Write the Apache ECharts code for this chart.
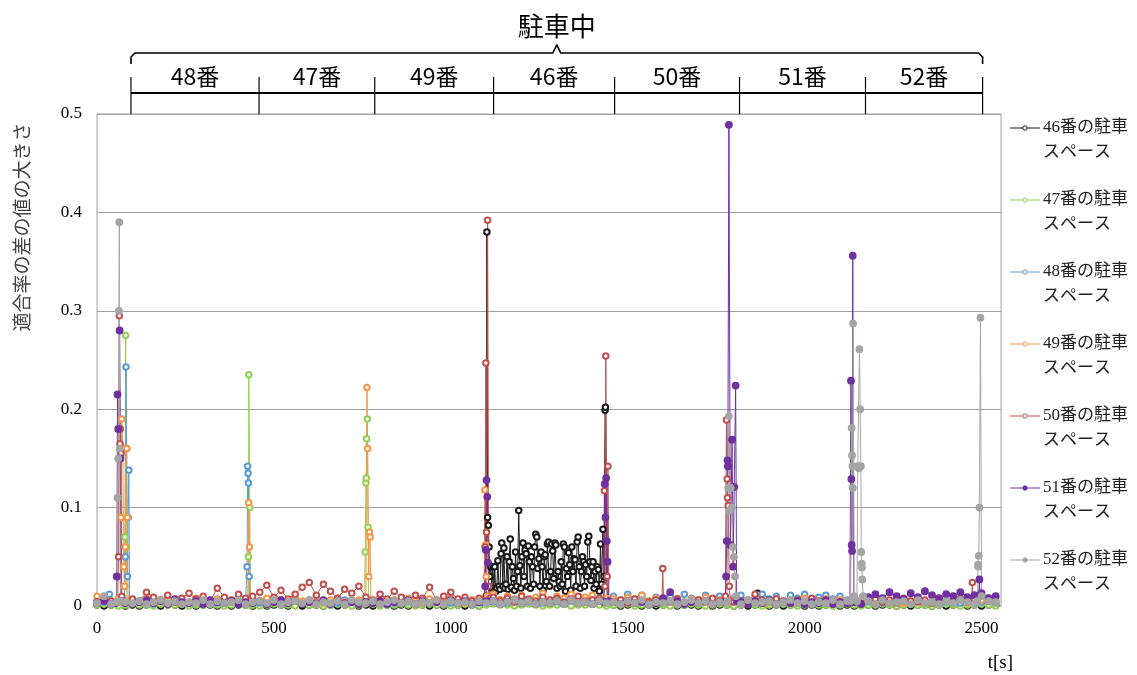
<!DOCTYPE html>
<html>
<head>
<meta charset="utf-8">
<script src="https://cdn.jsdelivr.net/npm/echarts@6.0.0/dist/echarts.min.js"></script>
<style>
  html, body { margin: 0; padding: 0; background: #fff; }
  #chart { width: 1137px; height: 675px; }
</style>
</head>
<body>
<div id="chart"></div>
<script>
// Parking spaces, in series order (later series are drawn on top)
const spaceNames = ['46番', '47番', '48番', '49番', '50番', '51番', '52番'];
const spaceColors = ['#1a1a1a', '#92d050', '#5b9bd5', '#f79646', '#c0504d', '#7030a0', '#a5a5a5'];
const hollowMarker = [true, true, true, true, true, false, false];

// Occupied intervals shown in the header: boundary times [s] and the space parked in each
const occupiedBounds = [96, 458, 785, 1121, 1463, 1816, 2172, 2503];
const occupiedLabels = ['48番', '47番', '49番', '46番', '50番', '51番', '52番'];

// Background level of each series, one sample every 20 s, in thousandths
const STEP = 20;
const base46 = [
  1,0,1,1,0, 1,0,1,1,0,1,1,0,1,0,1,1,0,1,0,1,1, 0,
  1,0,1,1,0,1,0,1,1,0,1,0,1,1,0, 1,0, 1,1,0,1,0,1,1,0,1,0,1,1,0,1,0,
  1,1,0,1,0,1,1,0,1,0,1,1,0,1,0,1,1,0, 1,0,1,1,0,1,0, 1, 1,0,1,1,0,1,0,1, 1,0,
  1,0,1,1,0,1,0,1,1,0,1,0,1,1,0,1, 0,1, 1,0,1,1,0,1,0,1,1,0,1,0,1,1,0,1, 0,1,1
];
const base47 = [
  1,2,1,0,1, 2,1,1,0,2,1,1,2,0,1,1,2,1,0,1,2,1, 1,
  0,1,2,1,1,0,2,1,1,0,1,2,1,0,1, 1,2, 0,1,1,2,1,0,1,2,1,1,0,1,2,1,0,
  1,2,1,1,0,1,2,1,0,1,1,2,0,1,1,2,1,0, 1,1,2,0,1,1,2, 1, 0,1,1,2,1,0,1,2, 1,0,
  1,2,1,0,1,1,2,1,0,1,2,1,1,0,1,2, 1,0, 1,1,2,1,0,1,2,1,1,0,1,2,1,0,1,1, 2,1,0
];
const base48 = [
  5,4,3,6,4, 3,5,4,2,6,3,5,4,3,7,4,5,3,6,4,3,5, 4,
  3,5,6,4,3,5,4,6,3,5,4,3,6,4,5, 3,5, 4,6,3,5,4,7,3,5,4,6,3,5,4,6,3,
  5,4,6,3,5,7,4,6,3,5,4,8,5,4,6,3,5,4, 10,6,12,7,11,5,9, 6, 10,5,12,8,6,11,7,10, 5,8,
  11,6,9,12,7,10,5,11,8,12,6,9,11,7,10,6, 4,5, 4,6,3,5,4,6,3,5,4,3,6,4,5,3,4,6, 4,5,3
];
const base49 = [
  10,5,4,7,3, 6,4,8,3,5,7,4,6,3,8,5,4,7,3,6,5,4, 6,
  5,8,4,6,3,9,5,4,7,3,6,8,4,5,6, 5,4, 7,3,6,4,8,5,3,7,4,6,9,5,3,6,4,
  8,12,6,10,7,11,5,9,13,6,10,8,12,7,9,11,6,8, 7,4,9,6,11,5,8, 6, 5,8,4,7,5,9,4,6, 5,7,
  4,6,8,3,5,7,4,6,3,8,5,4,7,3,6,5, 4,6, 5,3,6,4,7,3,5,6,4,3,7,5,4,6,3,5, 6,8,7
];
const base50 = [
  4,8,5,6,3, 7,5,14,9,6,11,4,8,13,7,10,5,18,9,6,12,8, 10,
  14,21,9,16,7,12,19,24,11,22,15,8,17,13,20, 9,6, 12,7,15,9,5,11,8,19,6,10,14,7,9,5,8,
  6,9,5,8,4,10,7,5,9,6,8,4,7,10,5,6,8,5, 4,6,3,7,5,4,6, 5, 4,7,3,5,6,4,8,5, 6,4,
  5,3,12,6,4,7,5,3,6,4,8,5,3,6,4,5, 4,3, 5,7,4,6,3,8,5,4,6,3,7,5,4,8,5,6, 12,5,4
];
const base51 = [
  3,5,2,4,3, 2,4,6,3,5,2,7,4,3,5,2,6,4,3,5,2,4, 3,
  5,2,4,6,3,5,2,4,3,6,2,5,3,4,2, 4,3, 5,2,4,3,6,2,5,3,4,2,6,3,5,2,4,
  3,5,2,4,6,3,5,2,4,3,5,2,6,3,4,2,5,3, 4,2,5,3,4,2,3, 8, 14,5,2,4,3,5,2,4, 3,5,
  4,2,5,3,6,2,4,3,5,2,4,3,6,2,4,3, 4,2, 9,12,8,14,10,7,13,9,15,11,8,12,10,14,9,11, 13,8,10
];
const base52 = [
  3,10,2,6,4, 3,5,2,4,6,3,5,2,4,3,6,2,5,3,4,6,2, 4,
  5,3,6,2,4,5,3,6,2,4,3,5,2,6,4, 3,5, 2,4,6,3,5,2,4,3,6,2,5,3,4,2,5,
  3,5,2,4,6,3,5,2,4,3,5,2,6,3,4,2,5,3, 4,2,5,3,6,2,4, 3, 5,2,4,6,3,5,2,4, 3,5,
  2,6,3,4,5,2,4,6,3,5,2,4,3,6,2,5, 3,4, 5,2,6,3,4,5,2,6,3,4,2,5,3,6,4,2, 3,5,4
];

// Short bursts of each series: [t (s), value]
const bursts46 = [
  [[1100,0.010],[1102,0.380],[1104,0.090],[1106,0.082],[1108,0.060],[1110,0.030],[1113,0.040],[1116,0.018],
   [1119,0.040],[1122,0.016],[1124,0.040],[1127,0.015],[1130,0.018],[1133,0.046],[1136,0.020],[1139,0.017],
   [1142,0.053],[1144,0.064],[1147,0.020],[1150,0.059],[1153,0.018],[1156,0.022],[1159,0.050],[1162,0.017],
   [1165,0.045],[1168,0.068],[1171,0.019],[1174,0.040],[1177,0.028],[1180,0.016],[1183,0.055],[1186,0.020],
   [1189,0.035],[1192,0.097],[1195,0.041],[1198,0.018],[1201,0.050],[1204,0.064],[1207,0.030],[1210,0.057],
   [1213,0.053],[1216,0.020],[1219,0.061],[1222,0.045],[1225,0.018],[1228,0.050],[1231,0.040],[1234,0.022],
   [1237,0.060],[1240,0.073],[1243,0.070],[1246,0.038],[1249,0.048],[1252,0.020],[1255,0.055],[1258,0.040],
   [1261,0.016],[1264,0.050],[1267,0.052],[1270,0.025],[1273,0.063],[1276,0.065],[1279,0.020],[1282,0.035],
   [1285,0.063],[1288,0.056],[1291,0.028],[1294,0.064],[1297,0.062],[1300,0.018],[1303,0.035],[1306,0.025],
   [1309,0.020],[1312,0.045],[1315,0.022],[1318,0.063],[1321,0.060],[1324,0.015],[1327,0.038],[1330,0.030],
   [1333,0.054],[1336,0.042],[1339,0.016],[1342,0.060],[1345,0.035],[1348,0.048],[1351,0.047],[1354,0.020],
   [1357,0.065],[1360,0.070],[1363,0.040],[1366,0.018],[1369,0.035],[1372,0.050],[1375,0.045],[1378,0.020],
   [1381,0.042],[1384,0.030],[1387,0.065],[1390,0.071],[1393,0.045],[1396,0.026],[1399,0.040],[1402,0.045],
   [1405,0.018],[1408,0.035],[1411,0.022],[1414,0.040],[1417,0.037],[1420,0.015],[1423,0.063],[1426,0.022],
   [1430,0.078],[1433,0.030],[1436,0.199],[1437,0.202],[1440,0.030],[1443,0.002]],
  [[1865,0.002],[1867,0.013],[1869,0.002]]
];
const bursts47 = [
  [[76,0.001],[78,0.020],[79,0.070],[81,0.275],[83,0.060],[85,0.001]],
  [[426,0.001],[428,0.050],[429,0.235],[432,0.100],[434,0.001]],
  [[756,0.002],[758,0.055],[760,0.125],[761,0.130],[762,0.170],[764,0.190],[766,0.080],[768,0.005]]
];
const bursts48 = [
  [[33,0.004],[35,0.012],[37,0.004]],
  [[78,0.005],[80,0.050],[82,0.243],[84,0.160],[86,0.030],[88,0.090],[90,0.138],[92,0.005]],
  [[422,0.004],[424,0.040],[426,0.142],[427,0.135],[428,0.125],[430,0.030],[432,0.004]]
];
const bursts49 = [
  [[66,0.004],[68,0.090],[70,0.190],[73,0.160],[76,0.040],[78,0.020],[80,0.060],[82,0.160],[84,0.160],[86,0.090],[88,0.005]],
  [[427,0.004],[429,0.105],[431,0.060],[433,0.005]],
  [[761,0.004],[763,0.222],[765,0.160],[768,0.030],[770,0.075],[772,0.070],[774,0.005]],
  [[1094,0.005],[1096,0.118],[1098,0.062],[1100,0.030],[1103,0.010]]
];
const bursts50 = [
  [[58,0.004],[61,0.050],[63,0.295],[65,0.165],[66,0.180],[68,0.155],[70,0.010]],
  [[1095,0.005],[1097,0.060],[1099,0.247],[1101,0.075],[1104,0.392],[1107,0.020],[1110,0.008]],
  [[1432,0.005],[1434,0.117],[1436,0.020],[1438,0.254],[1442,0.030],[1444,0.142],[1447,0.005]],
  [[1597,0.005],[1599,0.038],[1601,0.005]],
  [[1776,0.010],[1779,0.189],[1781,0.129],[1782,0.110],[1784,0.102],[1787,0.020],[1790,0.005]],
  [[2472,0.005],[2474,0.024],[2476,0.005]]
];
const bursts51 = [
  [[54,0.003],[56,0.030],[58,0.215],[60,0.180],[64,0.280],[66,0.150],[68,0.005]],
  [[1095,0.004],[1097,0.020],[1099,0.057],[1101,0.128],[1103,0.111],[1105,0.044],[1108,0.005]],
  [[1433,0.004],[1435,0.124],[1437,0.090],[1439,0.130],[1441,0.066],[1443,0.045],[1446,0.005]],
  [[1776,0.004],[1778,0.030],[1780,0.066],[1782,0.148],[1783,0.142],[1786,0.489],[1790,0.062],[1795,0.169],
   [1798,0.040],[1801,0.121],[1805,0.224],[1808,0.005]],
  [[2128,0.004],[2131,0.229],[2132,0.129],[2133,0.062],[2134,0.056],[2136,0.356],[2139,0.005]],
  [[2492,0.010],[2494,0.027],[2496,0.010]]
];
const bursts52 = [
  [[56,0.004],[58,0.110],[60,0.150],[62,0.300],[63,0.390],[64,0.160],[66,0.005]],
  [[1782,0.005],[1784,0.120],[1786,0.193],[1788,0.097],[1791,0.120],[1794,0.100],[1797,0.060],[1800,0.050],
   [1803,0.030],[1806,0.010]],
  [[2130,0.005],[2133,0.181],[2134,0.153],[2135,0.142],[2136,0.120],[2137,0.287],[2140,0.010],[2148,0.005],
   [2150,0.142],[2153,0.140],[2155,0.261],[2157,0.200],[2159,0.142],[2160,0.055],[2161,0.043],[2162,0.039],
   [2163,0.027],[2165,0.010]],
  [[2488,0.005],[2490,0.042],[2491,0.040],[2492,0.051],[2494,0.100],[2497,0.293],[2500,0.010]]
];

const baselines = [base46, base47, base48, base49, base50, base51, base52];
const bursts = [bursts46, bursts47, bursts48, bursts49, bursts50, bursts51, bursts52];

// Combine the background samples with the bursts into one time-ordered list
function buildData(base, groups) {
  const spans = groups.map(g => [g[0][0], g[g.length - 1][0]]);
  const pts = [];
  base.forEach((m, i) => {
    const t = i * STEP;
    if (!spans.some(s => t >= s[0] && t <= s[1])) pts.push([t, m / 1000]);
  });
  groups.forEach(g => g.forEach(p => pts.push(p)));
  pts.sort((a, b) => a[0] - b[0]);
  return pts;
}

const serifFont = '"Liberation Serif", "Noto Sans CJK JP", serif';
const sansJP = '"Noto Sans CJK JP", "Noto Sans", sans-serif';

const chart = echarts.init(document.getElementById('chart'), null, { renderer: 'canvas' });

const series = spaceNames.map((name, i) => ({
  name: name + 'の駐車スペース',
  type: 'line',
  data: buildData(baselines[i], bursts[i]),
  symbol: hollowMarker[i] ? 'emptyCircle' : 'circle',
  symbolSize: hollowMarker[i] ? 5.5 : 6.5,
  showAllSymbol: true,
  silent: true,
  color: spaceColors[i],
  lineStyle: { width: 1, color: spaceColors[i] },
  itemStyle: { color: spaceColors[i], borderColor: spaceColors[i], borderWidth: 1.3 },
  emphasis: { disabled: true }
}));

chart.setOption({
  animation: false,
  backgroundColor: '#fff',
  grid: {
    left: 97, right: 136, top: 114, bottom: 69,
    show: true, borderColor: '#a0a0a0', borderWidth: 1
  },
  xAxis: {
    type: 'value', min: 0, max: 2555, interval: 500,
    axisLine: { show: false },
    axisTick: { show: false },
    splitLine: { show: false },
    axisLabel: {
      showMaxLabel: false, fontFamily: serifFont, fontSize: 17, color: '#000', margin: 14,
      formatter: v => String(v)
    }
  },
  yAxis: {
    type: 'value', min: 0, max: 0.5, interval: 0.1,
    axisLine: { show: false },
    axisTick: { show: false },
    splitLine: { show: true, lineStyle: { color: '#a0a0a0', width: 1 } },
    axisLabel: { fontFamily: serifFont, fontSize: 17, color: '#000', margin: 15 }
  },
  series: series
});

// Header (occupied intervals), legend and axis titles
const g = [];
const bx = occupiedBounds.map(t => chart.convertToPixel({ gridIndex: 0 }, [t, 0])[0]);
const plotTop = chart.convertToPixel({ gridIndex: 0 }, [0, 0.5])[1];
const braceY = 53, rowLineY = 93, divTop = 77;
const xL = bx[0], xR = bx[bx.length - 1], xMid = (xL + xR) / 2;

g.push({
  type: 'polyline', silent: true,
  shape: { points: [[xL, 64], [xL, 57], [xL + 4, braceY], [xMid - 4, braceY], [xMid, braceY - 8],
                    [xMid + 4, braceY], [xR - 4, braceY], [xR, 57], [xR, 64]] },
  style: { stroke: '#000', lineWidth: 1.6, fill: null }
});
g.push({
  type: 'text', silent: true, x: xMid, y: 26,
  style: { text: '駐車中', font: '26px ' + sansJP, fill: '#000', textAlign: 'center', textVerticalAlign: 'middle' }
});
g.push({
  type: 'line', silent: true,
  shape: { x1: xL, y1: rowLineY, x2: xR, y2: rowLineY },
  style: { stroke: '#000', lineWidth: 2 }
});
bx.forEach(x => {
  g.push({
    type: 'line', silent: true,
    shape: { x1: x, y1: divTop, x2: x, y2: plotTop },
    style: { stroke: '#000', lineWidth: 1.2 }
  });
});
occupiedLabels.forEach((lab, i) => {
  g.push({
    type: 'text', silent: true, x: (bx[i] + bx[i + 1]) / 2, y: 76,
    style: { text: lab, font: '23px ' + sansJP, fill: '#000', textAlign: 'center', textVerticalAlign: 'middle' }
  });
});

// Legend on the right
spaceNames.forEach((name, i) => {
  const y = 128 + 72 * i;
  const c = spaceColors[i];
  g.push({ type: 'line', silent: true, shape: { x1: 1010, y1: y, x2: 1040, y2: y }, style: { stroke: c, lineWidth: 1 } });
  g.push({ type: 'circle', silent: true, shape: { cx: 1025, cy: y, r: 2.2 },
           style: { fill: hollowMarker[i] ? '#fff' : c, stroke: c, lineWidth: 1 } });
  g.push({ type: 'text', silent: true, x: 1043, y: y,
           style: { text: name + 'の駐車', font: '17px ' + serifFont, fill: '#222', textAlign: 'left', textVerticalAlign: 'middle' } });
  g.push({ type: 'text', silent: true, x: 1043, y: y + 25,
           style: { text: 'スペース', font: '17px ' + serifFont, fill: '#222', textAlign: 'left', textVerticalAlign: 'middle' } });
});

// Axis titles
g.push({
  type: 'text', silent: true, x: 22, y: 227, rotation: Math.PI / 2,
  style: { text: '適合率の差の値の大きさ', font: '19px ' + sansJP, fill: '#404040', textAlign: 'center', textVerticalAlign: 'middle' }
});
g.push({
  type: 'text', silent: true, x: 1013, y: 663,
  style: { text: 't[s]', font: '19px ' + serifFont, fill: '#000', textAlign: 'right', textVerticalAlign: 'middle' }
});

chart.setOption({ graphic: g });
</script>
</body>
</html>
